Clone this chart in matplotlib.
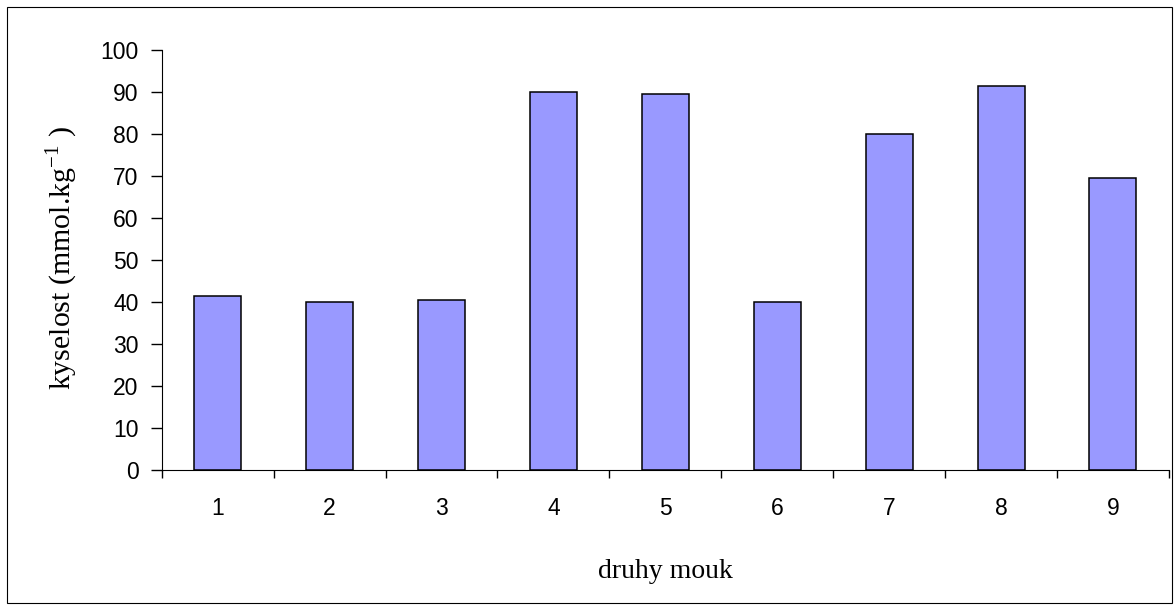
import matplotlib
matplotlib.use("Agg")
from matplotlib import pyplot as plt
from matplotlib.patches import Rectangle

# chart data
categories = ["1", "2", "3", "4", "5", "6", "7", "8", "9"]
acidity = [41.5, 40.0, 40.5, 90.0, 89.6, 40.0, 80.0, 91.5, 69.6]
y_ticks = [0, 10, 20, 30, 40, 50, 60, 70, 80, 90, 100]

plt.rcParams["mathtext.fontset"] = "custom"
plt.rcParams["mathtext.rm"] = "Liberation Serif"

fig = plt.figure(figsize=(11.74, 6.05), dpi=100)
ax = fig.add_axes([0.1377, 0.2226, 0.858, 0.6943])

# bars sit in the middle of each category slot
centers = [i + 0.5 for i in range(len(categories))]
ax.bar(centers, acidity, width=0.42, color="#9999FF",
       edgecolor="black", linewidth=1.1)

ax.set_xlim(0, len(categories))
ax.set_ylim(0, 100)

# x ticks on category borders, labels in the middle
ax.set_xticks(range(len(categories) + 1))
ax.set_xticklabels([])
ax.set_xticks(centers, minor=True)
ax.set_xticklabels(categories, minor=True, fontfamily="Liberation Sans",
                   fontsize=16.5)
ax.tick_params(axis="x", which="major", direction="out", length=6, width=1)
ax.tick_params(axis="x", which="minor", length=0, pad=19)

ax.set_yticks(y_ticks)
ax.set_yticklabels([str(t) for t in y_ticks], fontfamily="Liberation Sans",
                   fontsize=16.5)
ax.tick_params(axis="y", direction="out", length=8, width=1, pad=8.5)

ax.spines["top"].set_visible(False)
ax.spines["right"].set_visible(False)

ax.set_xlabel("druhy mouk", fontfamily="Liberation Serif", fontsize=20)
ax.xaxis.set_label_coords(0.5, -0.21)
ax.set_ylabel("kyselost (mmol.kg$^{-1}$ )", fontfamily="Liberation Serif",
              fontsize=21.5)
ax.yaxis.set_label_coords(-0.081, 0.505)

# thin frame round the whole figure
fig.patches.append(Rectangle((7 / 1174, 2 / 605), 1165 / 1174, 596 / 605,
                             transform=fig.transFigure, fill=False,
                             edgecolor="black", linewidth=0.8))

fig.savefig("out.png", dpi=100)
